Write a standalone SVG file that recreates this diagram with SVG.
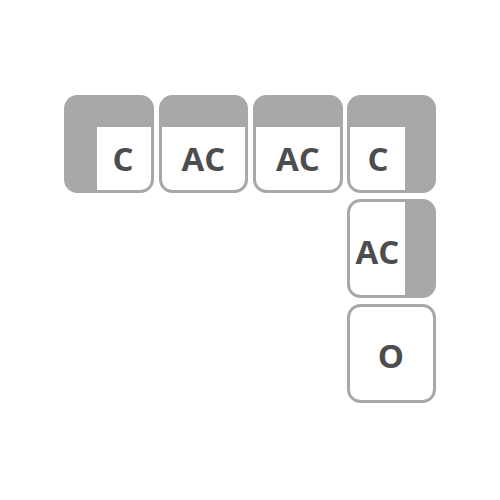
<svg xmlns="http://www.w3.org/2000/svg" width="500" height="500" viewBox="0 0 500 500">
<style>
.bg{fill:#a7a8aa}
.w{fill:#ffffff}
.edge{fill:none;stroke:#a7a8aa;stroke-width:3}
.t{font-family:"Open Sans","DejaVu Sans",sans-serif;font-weight:bold;font-size:33px;fill:#4d4d4f;text-anchor:middle}
</style>
<rect width="500" height="500" fill="#ffffff"/>
<g id="connectors"></g>
<g id="n1">
<rect class="bg" x="65.5" y="96.5" width="87" height="95" rx="12"/>
<path class="w" d="M97,127 H153 V180 A12,12 0 0 1 141,192 H97 Z"/>
<rect class="edge" x="65.5" y="96.5" width="87" height="95" rx="12"/>
<text class="t" x="123" y="170.5">C</text>
</g>
<g id="n2">
<rect class="bg" x="160.5" y="96.5" width="86" height="95" rx="12"/>
<path class="w" d="M160,127 H247 V180 A12,12 0 0 1 235,192 H172 A12,12 0 0 1 160,180 Z"/>
<rect class="edge" x="160.5" y="96.5" width="86" height="95" rx="12"/>
<text class="t" x="203.5" y="170.5">AC</text>
</g>
<g id="n3">
<rect class="bg" x="254.5" y="96.5" width="87" height="95" rx="12"/>
<path class="w" d="M254,127 H342 V180 A12,12 0 0 1 330,192 H266 A12,12 0 0 1 254,180 Z"/>
<rect class="edge" x="254.5" y="96.5" width="87" height="95" rx="12"/>
<text class="t" x="298" y="170.5">AC</text>
</g>
<g id="n4">
<rect class="bg" x="348.5" y="96.5" width="86" height="95" rx="12"/>
<path class="w" d="M348,127 H405 V192 H360 A12,12 0 0 1 348,180 Z"/>
<rect class="edge" x="348.5" y="96.5" width="86" height="95" rx="12"/>
<text class="t" x="378" y="170.5">C</text>
</g>
<g id="n5">
<rect class="bg" x="348.5" y="200.5" width="86" height="96" rx="12"/>
<path class="w" d="M360,200 H405 V297 H360 A12,12 0 0 1 348,285 V212 A12,12 0 0 1 360,200 Z"/>
<rect class="edge" x="348.5" y="200.5" width="86" height="96" rx="12"/>
<text class="t" x="377.5" y="263.5">AC</text>
</g>
<g id="n6">
<rect class="w" x="348.5" y="305.5" width="86" height="96" rx="12"/>
<rect class="edge" x="348.5" y="305.5" width="86" height="96" rx="12"/>
<text class="t" x="391" y="367.5">O</text>
</g>
</svg>
